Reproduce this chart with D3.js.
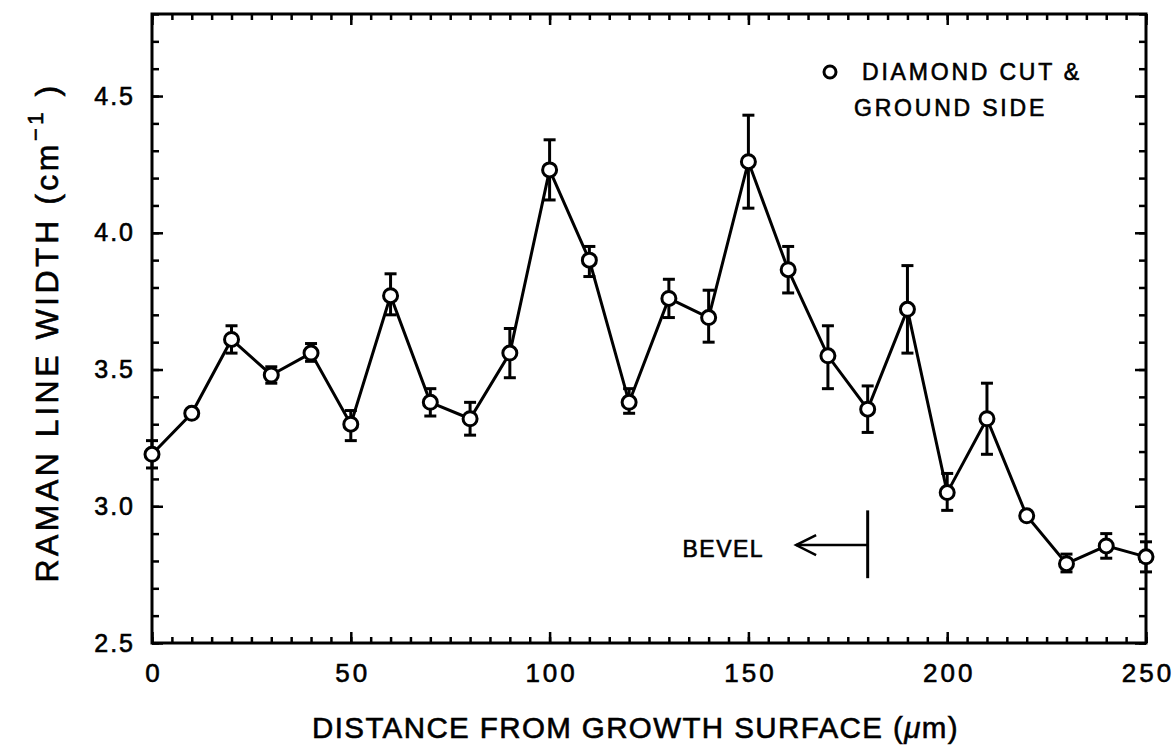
<!DOCTYPE html>
<html>
<head>
<meta charset="utf-8">
<script src="https://cdn.jsdelivr.net/npm/d3@7"></script>
<style>
  body { margin: 0; background: #fff; }
  text { font-family: "Liberation Sans", Arial, sans-serif; fill: #000; stroke: #000; stroke-width: 0.6px; }
</style>
</head>
<body>
<script>
// distance from growth surface (um) and Raman line width (cm-1)
const distance = [0, 10, 20, 30, 40, 50, 60, 70, 80, 90, 100, 110, 120, 130, 140, 150, 160, 170, 180, 190, 200, 210, 220, 230, 240, 250];
const lineWidth = [3.19, 3.34, 3.61, 3.48, 3.56, 3.30, 3.77, 3.38, 3.32, 3.56, 4.23, 3.90, 3.38, 3.76, 3.69, 4.26, 3.865, 3.55, 3.355, 3.72, 3.05, 3.32, 2.965, 2.79, 2.855, 2.815];
const errLow = [3.14, 3.34, 3.56, 3.45, 3.53, 3.24, 3.70, 3.33, 3.26, 3.47, 4.12, 3.84, 3.34, 3.69, 3.60, 4.09, 3.78, 3.43, 3.27, 3.56, 2.985, 3.19, 2.965, 2.76, 2.81, 2.76];
const errHigh = [3.24, 3.34, 3.66, 3.51, 3.595, 3.35, 3.85, 3.43, 3.38, 3.65, 4.34, 3.95, 3.43, 3.83, 3.79, 4.43, 3.95, 3.66, 3.44, 3.88, 3.12, 3.45, 2.965, 2.825, 2.90, 2.87];

const xMajor = [0, 50, 100, 150, 200, 250];
const yMajor = [2.5, 3.0, 3.5, 4.0, 4.5];
const legendLines = ['DIAMOND CUT &', 'GROUND SIDE'];
const bevel = {x: 180, y: 2.858, tip: 162, top: 2.985, bottom: 2.737, label: 'BEVEL'};

const W = 1175, H = 747;
const margin = {left: 152, right: 29, top: 14, bottom: 104};
const width = W - margin.left - margin.right;
const height = H - margin.top - margin.bottom;

const svg = d3.select('body').append('svg').attr('width', W).attr('height', H);
const g = svg.append('g').attr('transform', `translate(${margin.left},${margin.top})`);

const x = d3.scaleLinear().domain([0, 250]).range([0, width]);
const y = d3.scaleLinear().domain([2.5, 4.8]).range([height, 0]);

const xMinor = d3.range(0, 251, 5);
const yMinor = d3.range(25, 49).map(d => d / 10);

// ticks point inward, minor then major
const addAxis = (axis, transform) => {
  const a = g.append('g').attr('transform', transform).call(axis);
  a.select('.domain').remove();
  a.selectAll('line').attr('stroke', '#000').attr('stroke-width', 2.5);
  return a;
};
addAxis(d3.axisBottom(x).tickValues(xMinor).tickSize(-6).tickFormat(''), `translate(0,${height})`);
addAxis(d3.axisTop(x).tickValues(xMinor).tickSize(-6).tickFormat(''), 'translate(0,0)');
addAxis(d3.axisLeft(y).tickValues(yMinor).tickSize(-7).tickFormat(''), 'translate(0,0)');
addAxis(d3.axisRight(y).tickValues(yMinor).tickSize(-7).tickFormat(''), `translate(${width},0)`);

const xAx = addAxis(d3.axisBottom(x).tickValues(xMajor).tickSize(-11).tickFormat(d3.format('d')), `translate(0,${height})`);
xAx.selectAll('text').style('font-size', '26px').style('letter-spacing', '3px')
  .attr('y', 21).attr('dy', '0.71em').attr('dx', 1.5);
addAxis(d3.axisTop(x).tickValues(xMajor).tickSize(-11).tickFormat(''), 'translate(0,0)');
const yAx = addAxis(d3.axisLeft(y).tickValues(yMajor).tickSize(-11).tickFormat(d3.format('.1f')), 'translate(0,0)');
yAx.selectAll('text').style('font-size', '25px').style('letter-spacing', '2px').attr('x', -17);
addAxis(d3.axisRight(y).tickValues(yMajor).tickSize(-11).tickFormat(''), `translate(${width},0)`);

// frame
g.append('rect').attr('width', width).attr('height', height)
  .attr('fill', 'none').attr('stroke', '#000').attr('stroke-width', 3);

const pts = distance.map((d, i) => ({d, v: lineWidth[i], lo: errLow[i], hi: errHigh[i]}));

// error bars
const eb = g.append('g').attr('stroke', '#000').attr('stroke-width', 3);
pts.filter(p => p.hi > p.lo).forEach(p => {
  eb.append('line').attr('x1', x(p.d)).attr('x2', x(p.d)).attr('y1', y(p.lo)).attr('y2', y(p.hi));
  eb.append('line').attr('x1', x(p.d) - 6).attr('x2', x(p.d) + 6).attr('y1', y(p.lo)).attr('y2', y(p.lo));
  eb.append('line').attr('x1', x(p.d) - 6).attr('x2', x(p.d) + 6).attr('y1', y(p.hi)).attr('y2', y(p.hi));
});

const line = d3.line().x(p => x(p.d)).y(p => y(p.v));
g.append('path').attr('d', line(pts)).attr('fill', 'none').attr('stroke', '#000').attr('stroke-width', 3);

g.selectAll('circle.pt').data(pts).join('circle').attr('class', 'pt')
  .attr('cx', p => x(p.d)).attr('cy', p => y(p.v)).attr('r', 7)
  .attr('fill', '#fff').attr('stroke', '#000').attr('stroke-width', 3);

// bevel annotation
g.append('line').attr('x1', x(bevel.x)).attr('x2', x(bevel.x)).attr('y1', y(bevel.top)).attr('y2', y(bevel.bottom))
  .attr('stroke', '#000').attr('stroke-width', 3);
g.append('line').attr('x1', x(bevel.x)).attr('x2', x(bevel.tip)).attr('y1', y(bevel.y)).attr('y2', y(bevel.y))
  .attr('stroke', '#000').attr('stroke-width', 2.5);
g.append('path')
  .attr('d', `M${x(bevel.tip) + 20},${y(bevel.y) - 10}L${x(bevel.tip)},${y(bevel.y)}L${x(bevel.tip) + 20},${y(bevel.y) + 10}`)
  .attr('fill', 'none').attr('stroke', '#000').attr('stroke-width', 2.5);
g.append('text').attr('x', x(bevel.tip) - 32).attr('y', y(bevel.y) + 12).attr('text-anchor', 'end')
  .style('font-size', '23px').style('letter-spacing', '1.5px').text(bevel.label);

// legend
const lg = g.append('g').attr('transform', `translate(${830 - margin.left},${72 - margin.top})`);
lg.append('circle').attr('r', 6).attr('fill', '#fff').attr('stroke', '#000').attr('stroke-width', 3);
lg.append('text').attr('x', 32).attr('y', 8).style('font-size', '23px').style('letter-spacing', '2.8px').text(legendLines[0]);
lg.append('text').attr('x', 24).attr('y', 44).style('font-size', '23px').style('letter-spacing', '2.8px').text(legendLines[1]);

// axis titles
const xt = svg.append('text').attr('x', 312).attr('y', 738)
  .style('font-size', '29.5px').style('letter-spacing', '1.4px');
xt.append('tspan').text('DISTANCE FROM GROWTH SURFACE (');
xt.append('tspan').style('font-style', 'italic').text('\u03bc');
xt.append('tspan').text('m)');

const yt = svg.append('text').attr('transform', `translate(58,${margin.top + height / 2 + 4}) rotate(-90)`)
  .attr('text-anchor', 'middle').style('font-size', '32px').style('letter-spacing', '3.5px');
yt.append('tspan').text('RAMAN LINE WIDTH (cm');
yt.append('tspan').attr('dy', -15).style('font-size', '22px').text('\u22121');
yt.append('tspan').attr('dy', 15).text(' )');
</script>
</body>
</html>
